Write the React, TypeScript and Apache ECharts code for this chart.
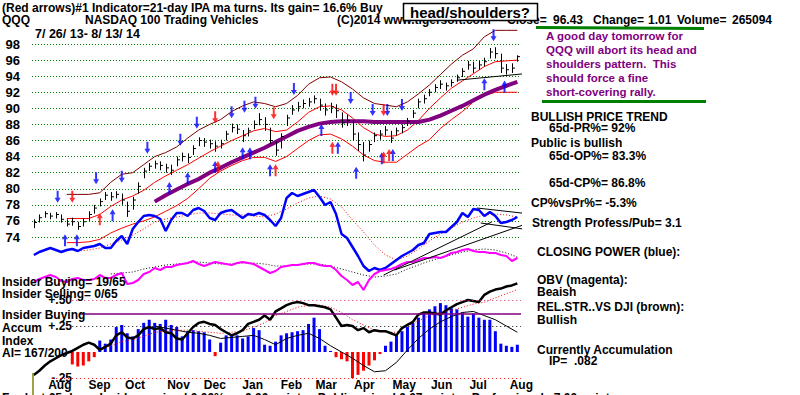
import React, { useEffect, useRef } from 'react';
import * as echarts from 'echarts';

// ---------- DATA ----------
const DAY_STEP = 3; // price / indicator samples every 3 trading days (index 0 = 7/26/13)
const SMOOTH_STEP = 6; // moving averages / bands sampled every 6 trading days

const monthStarts = [4, 26, 46, 69, 89, 110, 131, 150, 171, 192, 213, 234, 256];
const monthNames = ['Aug', 'Sep', 'Oct', 'Nov', 'Dec', 'Jan', 'Feb', 'Mar', 'Apr', 'May', 'Jun', 'Jul', 'Aug'];

const closes = [
  75.8, 76.4, 76.9, 76.6, 76.8, 76.2, 75.6, 75.9, 75.3, 75.9,
  76.8, 77.6, 78.4, 79.2, 79.0, 79.3, 78.6, 77.2, 78.6, 80.3,
  82.2, 82.8, 83.1, 82.9, 82.6, 82.3, 83.6, 84.0, 83.9, 85.0,
  86.0, 85.8, 85.6, 85.3, 85.6, 86.8, 87.6, 87.4, 86.6, 87.2,
  88.0, 88.6, 88.0, 86.0, 84.8, 86.5, 88.8, 89.8, 90.2, 90.6,
  90.8, 91.2, 90.4, 89.8, 90.2, 89.7, 88.2, 88.5, 86.8, 85.5,
  84.2, 85.5, 86.6, 86.8, 87.3, 86.3, 87.2, 87.6, 88.4, 89.4,
  90.8, 91.2, 92.0, 92.6, 93.0, 92.8, 93.2, 93.8, 94.6, 95.4,
  95.0, 95.4, 95.8, 97.0, 96.8, 95.0, 94.8, 95.0, 96.43,
];
const highs = [
  76.2, 76.8, 77.2, 77.0, 77.1, 76.8, 76.2, 76.4, 75.9, 76.3,
  77.2, 78.0, 78.8, 79.6, 79.6, 79.7, 79.4, 78.4, 79.0, 80.8,
  82.6, 83.2, 83.5, 83.4, 83.1, 83.0, 84.0, 84.5, 84.4, 85.4,
  86.4, 86.3, 86.1, 85.9, 86.1, 87.2, 88.1, 88.0, 87.3, 87.6,
  88.5, 89.4, 88.9, 87.6, 85.9, 86.9, 89.2, 90.4, 90.8, 91.1,
  91.3, 91.6, 91.2, 90.6, 90.7, 90.5, 89.5, 89.2, 88.5, 87.0,
  85.8, 86.0, 87.0, 87.3, 87.8, 87.2, 87.6, 88.0, 88.8, 89.8,
  91.2, 91.7, 92.4, 93.0, 93.5, 93.2, 93.6, 94.2, 95.0, 95.9,
  95.8, 95.9, 96.3, 97.5, 97.6, 96.8, 95.5, 95.6, 96.6,
];
const lows = [
  75.1, 75.8, 76.4, 76.2, 76.3, 75.8, 75.3, 75.4, 74.9, 75.3,
  76.0, 76.9, 77.8, 78.6, 78.5, 78.8, 78.0, 76.5, 77.4, 79.4,
  81.3, 82.2, 82.5, 82.3, 82.0, 81.7, 82.8, 83.4, 83.2, 84.2,
  85.3, 85.2, 85.0, 84.6, 85.0, 86.0, 87.0, 86.8, 85.8, 86.5,
  87.4, 87.9, 87.2, 85.6, 84.1, 85.0, 87.8, 89.2, 89.6, 90.0,
  90.2, 90.6, 89.7, 89.1, 89.4, 88.8, 87.6, 87.8, 86.0, 84.7,
  83.4, 84.6, 85.8, 86.1, 86.6, 85.7, 86.6, 86.9, 87.8, 88.8,
  90.0, 90.6, 91.5, 92.0, 92.4, 92.2, 92.7, 93.3, 93.9, 94.8,
  94.4, 94.8, 95.2, 96.2, 96.2, 94.4, 94.2, 94.4, 95.8,
];

const bandStart = 18; // trading-day index of first band value
const upperBand = [
  79.3, 79.3, 79.3, 79.5, 80.8, 81.8, 82.0, 83.0, 84.0, 84.5, 85.2, 86.3, 87.3, 88.0,
  88.6, 89.6, 90.3, 90.8, 90.6, 90.2, 90.6, 91.6, 93.0, 93.8, 93.9, 93.3, 92.4, 91.3,
  90.6, 90.4, 90.2, 90.8, 91.8, 92.9, 94.2, 95.5, 96.6, 97.4, 98.9, 99.7, 99.7, 99.7,
];
const ma21 = [
  76.3, 76.3, 76.3, 76.8, 77.8, 78.6, 79.1, 79.8, 80.8, 81.6, 82.3, 83.0, 83.8, 84.6,
  85.3, 86.0, 86.6, 87.2, 87.5, 87.1, 87.3, 88.3, 89.5, 90.2, 90.3, 89.8, 88.8, 87.6,
  86.8, 86.5, 86.6, 87.3, 88.5, 90.0, 91.3, 92.5, 93.4, 94.3, 95.2, 95.8, 95.9, 96.0,
];
const lowerBand = [
  73.3, 73.3, 73.4, 73.7, 74.5, 75.1, 75.6, 76.0, 76.5, 77.2, 77.9, 78.8, 80.0, 81.3,
  82.2, 82.9, 83.5, 83.9, 83.9, 83.4, 84.0, 85.0, 86.0, 86.7, 86.8, 86.2, 85.3, 84.2,
  83.5, 83.3, 83.3, 84.3, 85.3, 86.1, 87.5, 88.6, 89.6, 90.8, 91.6, 92.0, 92.0, 92.0,
];
const ma65Start = 66;
const ma65 = [
  78.4, 79.2, 79.9, 80.6, 81.2, 82.0, 82.6, 83.3, 83.9, 84.5, 85.1, 85.8, 86.5, 87.2,
  87.7, 88.1, 88.3, 88.4, 88.4, 88.4, 88.3, 88.3, 88.3, 88.3, 88.3, 88.6, 89.1, 89.7,
  90.3, 91.0, 91.7, 92.3, 92.8, 93.3,
];
const neckline = [[231, 93.5], [277, 94.5]];

// arrows: [trading-day index, price]
const blueUp = [[17, 73.6], [23.5, 73.6], [43, 76.7], [74, 80.1], [84, 81.3], [99, 82.7], [114, 84.4], [118, 84.4], [129, 82.3], [157, 87.3], [166, 85.1], [176, 82.0], [190, 83.8], [196, 84.2], [246, 93.0], [257, 92.7]];
const blueDown = [[13, 79.0], [34, 81.3], [48, 81.5], [62, 85.1], [80, 86.1], [89, 88.2], [108, 89.5], [115, 90.2], [121, 90.7], [142, 92.4], [173, 91.3], [185, 89.8], [193, 89.8], [201, 90.4], [251, 99.1]];
const redUp = [[36, 76.2], [100.5, 82.7], [132, 82.3], [163, 85.1], [191, 83.9], [194, 84.2]];
const redDown = [[21, 79.0], [99, 88.9], [131, 89.4], [163, 92.3], [165, 92.3], [191, 89.8]];

// Closing power & OBV (relative units)
const closingPower = [
  45, 48, 50, 52, 50, 48, 50, 51, 49, 52, 53, 54, 56, 52, 52, 59, 64, 56, 71, 78,
  84, 85, 84, 81, 69, 80, 87, 87, 84, 90, 92, 89, 82, 80, 87, 89, 90, 86, 82, 86,
  85, 87, 85, 80, 74, 82, 102, 107, 104, 106, 108, 110, 103, 95, 98, 86, 66, 62, 53, 44,
  34, 29, 32, 30, 32, 36, 40, 44, 47, 50, 55, 57, 66, 67, 68, 68, 73, 78, 87, 83,
  91, 90, 84, 88, 84, 77, 78, 80, 83,
];
const cpMaStart = 24;
const cpMa = [
  49, 50, 52, 56, 60, 65, 71, 78, 81, 83, 85, 87, 87, 86, 85, 85, 84, 83, 86, 91,
  97, 102, 104, 101, 93, 80, 68, 55, 45, 40, 44, 51, 59, 66, 72, 78, 82, 85, 86, 85, 83,
];
const obv = [
  18, 21, 23, 25, 23, 19, 18, 21, 22, 20, 20, 21, 25, 22, 22, 25, 27, 16, 17, 20,
  26, 28, 32, 30, 33, 33, 35, 36, 37, 39, 36, 34, 36, 38, 37, 36, 35, 37, 38, 37,
  36, 33, 30, 27, 29, 33, 34, 35, 35, 36, 37, 37, 35, 34, 34, 30, 24, 20, 15, 18,
  10, 20, 26, 29, 30, 31, 33, 36, 38, 38, 40, 42, 42, 43, 42, 44, 47, 48, 50, 51,
  49, 48, 48, 47, 47, 45, 44, 39, 42,
];
const obvMaStart = 42;
const obvMa = [
  26, 27, 28, 31, 33, 35, 36, 37, 38, 37, 36, 36, 37, 37, 36, 34, 34, 35, 36, 36,
  34, 31, 28, 25, 23, 24, 26, 31, 35, 39, 42, 45, 48, 50, 51, 50, 47, 43,
];
const cpTrendlines = [
  [[197, 30], [278, 82]],
  [[191, 25], [250, 78]],
  [[242, 92], [271, 86]],
  [[244, 77], [271, 70]],
];

// Accumulation index, relative strength
const accumStart = 21;
const accum = [
  -0.12, -0.14, -0.13, -0.09, -0.05, 0.11, 0.08, 0.12, 0.24, 0.26,
  0.18, 0.15, 0.22, 0.28, 0.31, 0.28, 0.27, 0.31, 0.26, 0.24,
  0.15, 0.2, 0.21, 0.2, 0.19, 0.12, -0.04, 0.09, 0.16, 0.17,
  0.16, 0.13, 0.15, 0.23, 0.21, 0.07, 0.06, 0.1, 0.16, 0.18,
  0.19, 0.2, 0.21, 0.27, 0.33, 0.22, 0.06, 0.01, -0.05, -0.07,
  -0.09, -0.26, -0.22, -0.18, -0.13, -0.08, -0.02, 0.06, 0.1, 0.16,
  0.2, 0.24, 0.28, 0.33, 0.37, 0.41, 0.44, 0.47, 0.45, 0.42,
  0.41, 0.38, 0.34, 0.37, 0.33, 0.31, 0.31, 0.2, 0.08, 0.06,
  0.05, 0.07,
];
const relStr = [
  -0.22, -0.18, -0.13, -0.09, -0.06, -0.03, -0.01, 0.01, 0.04, 0.07,
  0.09, 0.07, 0.02, 0.05, 0.08, 0.16, 0.19, 0.14, 0.13, 0.16,
  0.22, 0.24, 0.22, 0.23, 0.19, 0.18, 0.13, 0.12, 0.18, 0.24,
  0.28, 0.29, 0.27, 0.26, 0.22, 0.19, 0.16, 0.18, 0.21, 0.27,
  0.29, 0.31, 0.35, 0.31, 0.39, 0.42, 0.45, 0.47, 0.48, 0.47,
  0.45, 0.45, 0.44, 0.43, 0.41, 0.33, 0.25, 0.26, 0.25, 0.21,
  0.23, 0.19, 0.21, 0.2, 0.2, 0.18, 0.16, 0.23, 0.26, 0.29,
  0.36, 0.38, 0.38, 0.37, 0.36, 0.4, 0.43, 0.46, 0.48, 0.5,
  0.49, 0.48, 0.55, 0.58, 0.6, 0.61, 0.63, 0.64, 0.66,
];
const relStrMaStart = 36;
const relStrMa = [
  0.02, 0.06, 0.1, 0.12, 0.15, 0.19, 0.2, 0.21, 0.21, 0.2,
  0.19, 0.18, 0.19, 0.2, 0.24, 0.28, 0.35, 0.39, 0.43, 0.45,
  0.45, 0.43, 0.38, 0.31, 0.26, 0.21, 0.19, 0.19, 0.25, 0.3,
  0.35, 0.38, 0.4, 0.43, 0.46, 0.48, 0.52, 0.56, 0.6,
];
const aiMaStart = 66;
const aiMa = [
  0.25, 0.23, 0.21, 0.19, 0.18, 0.16, 0.13, 0.14, 0.15, 0.16,
  0.12, 0.07, 0.13, 0.16, 0.18, 0.13, 0.06, 0, -0.06, -0.13,
  -0.19, -0.18, -0.1, 0.02, 0.13, 0.22, 0.29, 0.34, 0.38, 0.39,
  0.35, 0.31, 0.25, 0.19,
];
const accumTicks = [-0.25, 0, 0.25, 0.5];
const accumTickLabels = ['-.25', '', '+.25', '+.50'];
const insiderBuyLevel = 0.365;

// ---------- HELPERS ----------
const FONT = 'Liberation Sans, Arial, sans-serif';
const pts = (arr: number[], step: number, start = 0) => arr.map((v, i) => [start + i * step, v]);

const UP = 'path://M3,0 L6,5 L4,5 L4,12 L2,12 L2,5 L0,5 Z';
const DOWN = 'path://M2,0 L4,0 L4,7 L6,7 L3,12 L0,7 L2,7 Z';

const txt = (x: number, y: number, text: string, opts: any = {}) => ({
  type: 'text',
  x,
  y,
  z: 50,
  style: {
    text,
    fontSize: opts.size || 12,
    fontWeight: 'bold',
    fontFamily: FONT,
    fill: opts.color || '#000',
    textAlign: opts.align || 'left',
    textVerticalAlign: 'middle',
    verticalAlign: 'middle',
  },
});

export default function App() {
  const ref = useRef<HTMLDivElement>(null);
  useEffect(() => {
    document.body.style.margin = '0';
    const chart = echarts.init(ref.current!, undefined, { renderer: 'svg' });
    const xAxisBase = { type: 'value', min: -1, max: 266 };
    const lineBase = { type: 'line', showSymbol: false, symbol: 'none', clip: false, silent: true };
    const purple = '#800080';
    const option: any = {
      animation: false,
      backgroundColor: '#ffffff',
      grid: [
        { left: 32, right: 279, top: 44, height: 193 },
        { left: 32, right: 279, top: 180, height: 120 },
        { left: 32, right: 279, top: 300, height: 78 },
      ],
      xAxis: [
        { ...xAxisBase, gridIndex: 0, show: false },
        { ...xAxisBase, gridIndex: 1, show: false },
        {
          ...xAxisBase,
          gridIndex: 2,
          axisLine: { show: false },
          axisTick: { show: false },
          splitLine: { show: false },
          axisLabel: {
            customValues: monthStarts,
            formatter: (v: number) => monthNames[monthStarts.indexOf(Math.round(v))] || '',
            align: 'left',
            padding: [0, 0, 0, 7],
            margin: 1,
            color: '#000',
            fontWeight: 'bold',
            fontSize: 12,
            fontFamily: FONT,
          },
        },
      ],
      yAxis: [
        {
          type: 'value', gridIndex: 0, min: 74, max: 98, interval: 2,
          axisLine: { show: false }, axisTick: { show: false },
          axisLabel: { color: '#000', fontWeight: 'bold', fontSize: 13, margin: 12, fontFamily: FONT },
          splitLine: { show: true, lineStyle: { color: '#008000', type: [1, 2], width: 1 } },
        },
        { type: 'value', gridIndex: 1, min: 0, max: 120, show: false },
        {
          type: 'value', gridIndex: 2, min: -0.25, max: 0.5, interval: 0.25,
          axisLine: { show: false }, axisTick: { show: false }, splitLine: { show: false },
          axisLabel: {
            inside: true, align: 'right', margin: 40, color: '#000', fontWeight: 'bold', fontSize: 12, fontFamily: FONT,
            formatter: (v: number) => {
              const i = accumTicks.findIndex((t) => Math.abs(t - v) < 1e-6);
              return i >= 0 ? accumTickLabels[i] : '';
            },
          },
        },
      ],
      series: [
        // ---- price panel ----
        { ...lineBase, name: 'upper', xAxisIndex: 0, yAxisIndex: 0, data: pts(upperBand, SMOOTH_STEP, bandStart), lineStyle: { color: '#800000', width: 1 }, z: 2 },
        { ...lineBase, name: 'ma21', xAxisIndex: 0, yAxisIndex: 0, data: pts(ma21, SMOOTH_STEP, bandStart), lineStyle: { color: '#ff0000', width: 1 }, z: 2 },
        { ...lineBase, name: 'lower', xAxisIndex: 0, yAxisIndex: 0, data: pts(lowerBand, SMOOTH_STEP, bandStart), lineStyle: { color: '#ff0000', width: 1 }, z: 2 },
        { ...lineBase, name: 'ma65', xAxisIndex: 0, yAxisIndex: 0, data: pts(ma65, SMOOTH_STEP, ma65Start), lineStyle: { color: purple, width: 4 }, z: 3 },
        { ...lineBase, name: 'neck', xAxisIndex: 0, yAxisIndex: 0, data: neckline, lineStyle: { color: '#000', width: 1 }, z: 3 },
        {
          type: 'custom', name: 'price', xAxisIndex: 0, yAxisIndex: 0, clip: false, silent: true, z: 4,
          data: closes.map((c, k) => [k * DAY_STEP, highs[k], lows[k], c]),
          encode: { x: 0, y: [1, 2, 3] },
          renderItem: (params: any, api: any) => {
            const x = api.value(0);
            const hi = api.coord([x, api.value(1)]);
            const lo = api.coord([x, api.value(2)]);
            const cl = api.coord([x, api.value(3)]);
            const px = Math.round(hi[0]) + 0.5;
            return {
              type: 'group',
              children: [
                { type: 'line', shape: { x1: px, y1: hi[1], x2: px, y2: lo[1] }, style: { stroke: '#000', lineWidth: 1 } },
                { type: 'line', shape: { x1: px, y1: cl[1], x2: px + 2.5, y2: cl[1] }, style: { stroke: '#000', lineWidth: 1 } },
              ],
            };
          },
        },
        { type: 'scatter', xAxisIndex: 0, yAxisIndex: 0, clip: false, silent: true, z: 6, data: blueUp, symbol: UP, symbolSize: [6, 12], itemStyle: { color: '#0000ff' } },
        { type: 'scatter', xAxisIndex: 0, yAxisIndex: 0, clip: false, silent: true, z: 6, data: blueDown, symbol: DOWN, symbolSize: [6, 12], itemStyle: { color: '#0000ff' } },
        { type: 'scatter', xAxisIndex: 0, yAxisIndex: 0, clip: false, silent: true, z: 6, data: redUp, symbol: UP, symbolSize: [6, 12], itemStyle: { color: '#ff0000' } },
        { type: 'scatter', xAxisIndex: 0, yAxisIndex: 0, clip: false, silent: true, z: 6, data: redDown, symbol: DOWN, symbolSize: [6, 12], itemStyle: { color: '#ff0000' } },
        // ---- closing power / OBV panel ----
        { ...lineBase, name: 'cpMa', xAxisIndex: 1, yAxisIndex: 1, data: pts(cpMa, SMOOTH_STEP, cpMaStart), lineStyle: { color: '#ff0000', width: 1, type: [1, 2] }, z: 2 },
        { ...lineBase, name: 'cp', xAxisIndex: 1, yAxisIndex: 1, data: pts(closingPower, DAY_STEP), lineStyle: { color: '#0000ff', width: 2.5 }, z: 3 },
        { ...lineBase, name: 'obvMa', xAxisIndex: 1, yAxisIndex: 1, data: pts(obvMa, SMOOTH_STEP, obvMaStart), lineStyle: { color: '#000', width: 1, type: [1, 2] }, z: 2 },
        { ...lineBase, name: 'obv', xAxisIndex: 1, yAxisIndex: 1, data: pts(obv, DAY_STEP), lineStyle: { color: '#ff00ff', width: 2 }, z: 3 },
        ...cpTrendlines.map((d) => ({ ...lineBase, xAxisIndex: 1, yAxisIndex: 1, data: d, lineStyle: { color: '#000', width: 1 }, z: 4 })),
        // ---- accumulation panel ----
        {
          type: 'bar', name: 'accum', xAxisIndex: 2, yAxisIndex: 2, silent: true, barWidth: 3, z: 2,
          data: pts(accum, DAY_STEP, accumStart).map((p) => ({ value: p, itemStyle: { color: p[1] >= 0 ? '#0000ff' : '#ff0000' } })),
        },
        { ...lineBase, name: 'aiMa', xAxisIndex: 2, yAxisIndex: 2, data: pts(aiMa, SMOOTH_STEP, aiMaStart), lineStyle: { color: '#000', width: 1 }, z: 3 },
        {
          ...lineBase, name: 'rsMa', xAxisIndex: 2, yAxisIndex: 2, data: pts(relStrMa, SMOOTH_STEP, relStrMaStart), lineStyle: { color: '#ff0000', width: 1, type: [1, 2] }, z: 3,
          markLine: {
            symbol: 'none', silent: true, label: { show: false }, animation: false,
            data: [
              [{ coord: [21, 0.5], lineStyle: { color: '#c0306a', type: [1, 3], width: 1 } }, { coord: [266, 0.5] }],
              [{ coord: [21, 0.25], lineStyle: { color: '#000', type: [1, 3], width: 1 } }, { coord: [266, 0.25] }],
              [{ coord: [10, -0.25], lineStyle: { color: '#ff0000', type: [1, 3], width: 1 } }, { coord: [266, -0.25] }],
              [{ coord: [25, insiderBuyLevel], lineStyle: { color: purple, type: 'solid', width: 1.5 } }, { coord: [266, insiderBuyLevel] }],
            ],
          },
        },
        { ...lineBase, name: 'relStr', xAxisIndex: 2, yAxisIndex: 2, data: pts(relStr, DAY_STEP), lineStyle: { color: '#000', width: 2.5 }, z: 4 },
      ],
      graphic: [
        txt(2, 8, '(Red arrows)#1 Indicator=21-day IPA ma turns. Its gain= 16.6% Buy'),
        txt(2, 20, 'QQQ'),
        txt(85, 20, 'NASDAQ 100 Trading Vehicles'),
        txt(337, 20, '(C)2014 www.tigersoft.com'),
        txt(507, 20, 'Close='),
        txt(553, 20, '96.43'),
        txt(593, 20, 'Change='),
        txt(648, 20, '1.01'),
        txt(677, 20, 'Volume='),
        txt(732, 20, '265094'),
        txt(35, 34, '7/ 26/ 13- 8/ 13/ 14', { size: 12.5 }),
        { type: 'rect', z: 60, shape: { x: 403.5, y: 3.5, width: 134, height: 17 }, style: { fill: '#fff', stroke: '#000', lineWidth: 1.5 } },
        { ...txt(470, 12.5, 'head/shoulders?', { size: 15, align: 'center' }), z: 61 },
        { type: 'line', z: 55, shape: { x1: 536, y1: 27.5, x2: 704, y2: 28.5 }, style: { stroke: '#008000', lineWidth: 3 } },
        txt(546, 36, 'A good day tomorrow for', { color: purple, size: 11.5 }),
        txt(546, 50, 'QQQ will abort its head and', { color: purple, size: 11.5 }),
        txt(546, 64, 'shoulders pattern.  This', { color: purple, size: 11.5 }),
        txt(546, 78, 'should force a fine', { color: purple, size: 11.5 }),
        txt(546, 92, 'short-covering rally.', { color: purple, size: 11.5 }),
        { type: 'line', z: 55, shape: { x1: 542, y1: 101.5, x2: 706, y2: 101.5 }, style: { stroke: '#008000', lineWidth: 3 } },
        txt(531, 117, 'BULLISH PRICE TREND'),
        txt(549, 128, '65d-PR%= 92%'),
        txt(531, 143, 'Public is bullish'),
        txt(549, 156, '65d-OP%= 83.3%'),
        txt(549, 183, '65d-CP%= 86.8%'),
        txt(531, 203, 'CP%vsPr%= -5.3%'),
        txt(532, 223, 'Strength Profess/Pub= 3.1'),
        txt(537, 252, 'CLOSING POWER (blue):'),
        txt(537, 280, 'OBV (magenta):'),
        txt(537, 292, 'Beaish'),
        txt(537, 307, 'REL.STR..VS DJI (brown):'),
        txt(537, 320, 'Bullish'),
        txt(537, 350, 'Currently Accumulation'),
        txt(549, 361, 'IP=  .082'),
        txt(2, 282, 'Insider Buying= 19/65'),
        txt(2, 294, 'Insider Selling= 0/65'),
        txt(2, 315, 'Insider Buying'),
        txt(2, 328, 'Accum'),
        txt(2, 341, 'Index'),
        txt(2, 353, 'AI= 167/200'),
        { type: 'line', z: 55, shape: { x1: 33, y1: 373, x2: 33, y2: 395 }, style: { stroke: '#808000', lineWidth: 1.5 } },
        txt(2, 398, 'For last 65 days, Insiders gained 0.00%  =  0.00 points.  Public gained 0.07 points.  Professionals 7.00 points'),
      ],
    };
    chart.setOption(option);
    return () => chart.dispose();
  }, []);
  return <div ref={ref} style={{ width: 800, height: 395 }} />;
}
